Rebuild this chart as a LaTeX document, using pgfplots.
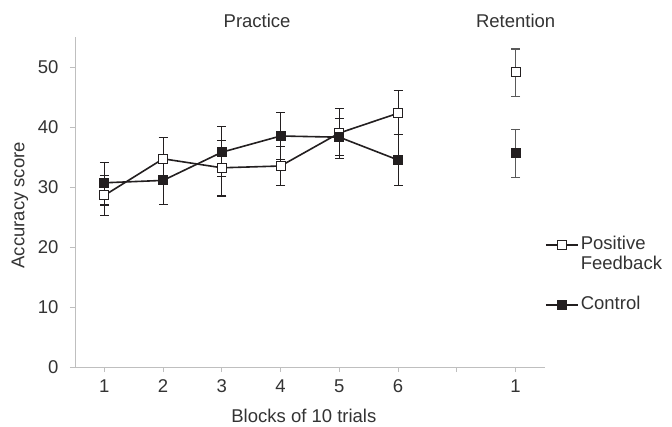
\documentclass[border=0pt]{standalone}
\usepackage{pgfplots}
\pgfplotsset{compat=1.18}
\usepackage{fontspec}
\setmainfont{Liberation Sans}
\definecolor{ink}{HTML}{231F20}
\definecolor{axgray}{HTML}{BFBFBF}
\definecolor{txt}{HTML}{333333}
\definecolor{errgray}{HTML}{595959}
\newcommand{\chfont}{\fontsize{18.5bp}{22bp}\selectfont}
\begin{document}
\begin{tikzpicture}[font=\chfont]
\path[use as bounding box] (0,0) rectangle (672bp,427bp);
\begin{axis}[
  at={(75bp,60bp)}, anchor=south west,
  scale only axis, width=470bp, height=330bp,
  xmin=0.5, xmax=8.5, ymin=0, ymax=55,
  axis lines=left,
  axis line style={draw=axgray, line width=1bp, -},
  xtick={1,...,8}, xticklabels={1,2,3,4,5,6,,1},
  ytick={0,10,...,50},
  /pgf/number format/assume math mode=true,
  tick style={draw=axgray, line width=0.8bp},
  tick align=outside, major tick length=5bp,
  tick label style={font=\chfont, text=txt},
  x tick label style={yshift=-4bp},
  y tick label style={xshift=-8bp},
  xlabel={Blocks of 10 trials},
  ylabel={Accuracy score},
  label style={font=\chfont, text=txt},
  xlabel style={at={(axis description cs:0.487,-0.148)}, anchor=center},
  ylabel style={at={(axis description cs:-0.117,0.49)}, anchor=center},
  clip=false,
  legend style={draw=none, fill=none, at={(axis description cs:1.0,0.40)}, anchor=north west,
    font=\chfont, text=txt,
    row sep=0pt, inner sep=0pt,
    nodes={text height=13bp, text depth=4bp, inner ysep=1.5bp},
    cells={anchor=west}},
  legend image code/.code={\draw[mark repeat=2,mark phase=2] plot coordinates {(0bp,0bp) (16bp,0bp) (32bp,0bp)};},
  error bars/error bar style={line width=1.1bp},
  error bars/error mark options={rotate=90, mark size=4.5bp, line width=1.1bp},
]
% Positive Feedback, practice
\addplot+[ink, line width=1.6bp, mark=square*, mark size=4.5bp,
  mark options={fill=white, draw=ink, line width=1bp, solid},
  error bars/.cd, y dir=both, y explicit]
  table[x=x, y=y, y error plus=ep, y error minus=em] {
  x y ep em
  1 28.6 3.3 3.4
  2 34.7 3.5 3.5
  3 33.2 4.6 4.7
  4 33.5 3.3 3.3
  5 39.0 4.1 3.7
  6 42.3 3.8 3.6
  };
\addlegendentry{Positive}
\addlegendimage{empty legend}
\addlegendentry{Feedback}
\addlegendimage{empty legend}
\addlegendentry{}
% Control, practice
\addplot+[ink, line width=1.6bp, mark=square*, mark size=4.5bp,
  mark options={fill=ink, draw=ink, line width=1bp, solid},
  error bars/.cd, y dir=both, y explicit]
  table[x=x, y=y, y error plus=ep, y error minus=em] {
  x y ep em
  1 30.7 3.4 3.7
  2 31.1 4.0 4.0
  3 35.8 4.3 4.1
  4 38.5 3.9 3.9
  5 38.3 3.1 3.5
  6 34.5 4.2 4.3
  };
\addlegendentry{Control}
% Retention
\addplot+[only marks, mark=square*, mark size=4.5bp,
  mark options={fill=white, draw=ink, line width=1bp, solid},
  error bars/.cd, y dir=both, y explicit,
  error bar style={errgray, line width=1.1bp},
  error mark options={rotate=90, mark size=4.5bp, errgray, line width=1.1bp}]
  table[x=x, y=y, y error plus=ep, y error minus=em] {
  x y ep em
  8 49.1 3.9 4.0
  };
\addplot+[only marks, mark=square*, mark size=4.5bp,
  mark options={fill=ink, draw=ink, line width=1bp, solid},
  error bars/.cd, y dir=both, y explicit,
  error bar style={errgray, line width=1.1bp},
  error mark options={rotate=90, mark size=4.5bp, errgray, line width=1.1bp}]
  table[x=x, y=y, y error plus=ep, y error minus=em] {
  x y ep em
  8 35.6 4.0 4.0
  };
\node[text=txt, font=\chfont] at (axis cs:3.6,57.7) {Practice};
\node[text=txt, font=\chfont] at (axis cs:8,57.7) {Retention};
\end{axis}
\end{tikzpicture}
\end{document}
